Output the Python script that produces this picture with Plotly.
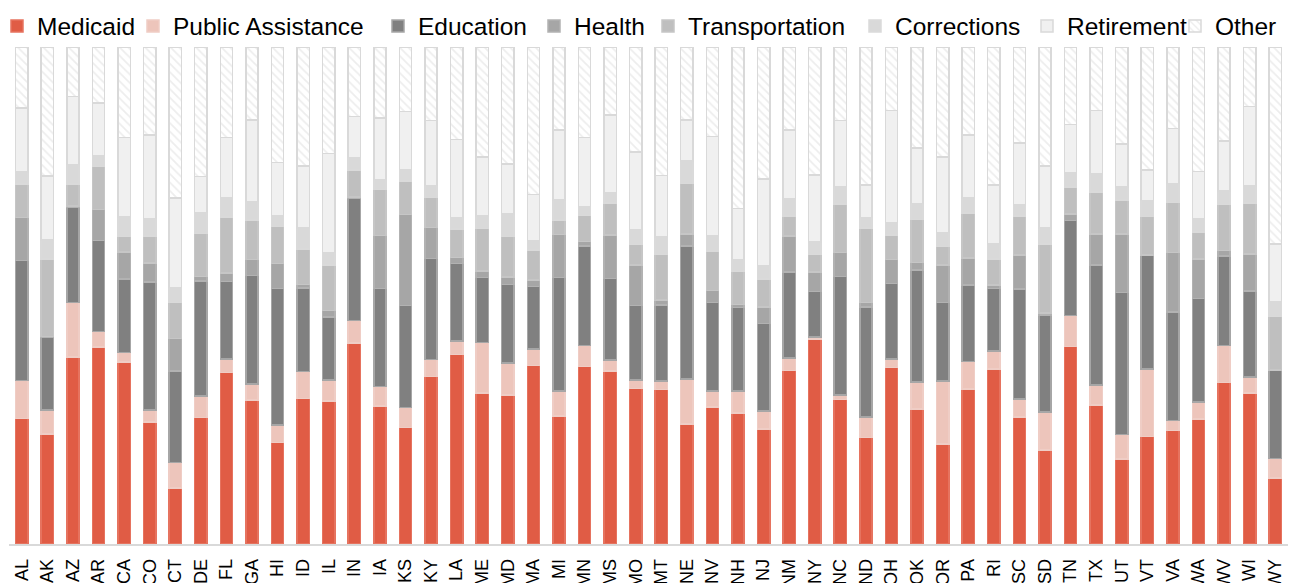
import plotly.graph_objects as go

states = ["AL","AK","AZ","AR","CA","CO","CT","DE","FL","GA","HI","ID","IL","IN","IA","KS","KY","LA","ME","MD",
          "MA","MI","MN","MS","MO","MT","NE","NV","NH","NJ","NM","NY","NC","ND","OH","OK","OR","PA","RI","SC",
          "SD","TN","TX","UT","VT","VA","WA","WV","WI","WY"]

medicaid = [25.3,22.1,37.6,39.6,36.6,24.6,11.3,25.4,34.5,29.0, 20.4,29.3,28.8,40.4,27.8,23.4,33.7,38.2,30.4,30.0,
            35.9,25.8,35.7,34.8,31.3,31.1,24.1,27.6,26.3,23.1, 34.9,41.2,29.1,21.4,35.5,27.2,20.1,31.2,35.2,25.6,
            18.9,39.7,28.0,17.1,21.6,22.9,25.2,32.5,30.4,13.3]
public_assistance = [7.6,4.8,11.0,3.2,1.9,2.4,5.1,4.4,2.7,3.2, 3.6,5.4,4.2,4.5,3.9,4.1,3.4,2.7,10.1,6.4,
                     3.3,5.0,4.2,2.2,1.7,1.7,9.1,3.2,4.5,3.7, 2.5,0.5,0.9,4.2,1.8,5.4,12.7,5.5,3.7,3.6,
                     7.6,6.2,4.0,5.0,13.6,2.0,3.4,7.4,3.2,3.9]
education = [24.1,14.6,19.1,18.3,14.8,25.8,18.4,23.1,15.6,21.8, 27.5,16.8,12.7,24.6,19.7,20.5,20.3,15.6,13.1,15.8,
             12.6,22.8,20.1,16.4,15.0,15.2,26.8,17.8,16.7,17.6, 17.3,9.1,23.8,22.1,15.2,22.6,15.8,15.4,12.6,22.1,
             19.5,19.1,24.1,28.6,22.8,21.8,20.8,18.0,17.3,17.7]
health = [8.7,0.2,0.3,6.2,5.5,3.8,6.5,0.9,1.7,3.2, 5.0,0.7,1.3,0.3,10.7,18.3,6.3,1.2,1.3,1.5,
          1.3,8.7,0.9,8.7,8.1,1.0,2.4,2.4,0.6,3.3, 7.3,3.9,4.9,0.9,4.8,1.5,7.5,5.4,0.7,6.8,
          0.4,1.3,6.3,11.7,0.2,12.0,8.0,1.2,7.4,0.1]
transportation = [6.7,15.6,4.4,8.7,3.1,5.4,7.2,8.6,11.3,8.0, 7.4,7.2,9.1,5.4,9.2,6.7,6.0,5.7,8.6,8.2,
                  6.0,2.9,5.2,6.4,4.2,9.2,10.1,8.0,6.7,5.6, 4.0,3.6,9.7,15.0,4.9,8.7,3.8,9.1,5.2,7.9,
                  13.9,5.5,8.4,6.9,7.7,10.1,5.4,9.2,10.2,10.7]
corrections = [2.5,3.8,4.0,2.2,3.9,3.6,3.1,4.2,3.8,3.7, 2.2,4.2,2.6,2.5,2.0,2.4,2.4,2.4,2.5,4.5,
               1.9,4.0,1.8,2.1,3.0,3.5,4.6,3.0,2.4,2.7, 3.4,2.5,3.5,2.1,2.6,3.2,2.8,3.0,3.0,2.2,
               3.2,2.8,3.6,2.6,3.2,3.8,2.7,2.7,3.5,3.0]
retirement = [12.8,12.9,13.6,10.5,16.0,16.8,17.9,7.3,12.2,16.4, 10.7,12.5,19.9,8.2,12.4,11.6,13.1,15.7,11.9,10.1,
              9.3,14.1,13.9,15.6,15.6,12.4,8.2,20.0,10.2,17.4, 13.9,13.4,13.3,6.5,22.5,11.2,15.2,12.7,11.9,12.5,
              12.5,9.7,12.8,8.7,6.2,11.1,9.5,10.1,15.9,11.6]
other = [12.3,25.9,10.0,11.3,18.2,17.7,30.4,26.0,18.2,14.7, 23.3,23.9,21.4,14.0,14.3,13.0,14.8,18.6,22.1,23.5,
         29.6,16.7,18.2,13.7,21.1,25.8,14.7,18.0,32.5,26.6, 16.7,25.8,14.8,27.8,12.8,20.3,22.1,17.7,27.8,19.3,
         23.9,15.6,12.8,19.5,24.7,16.4,25.1,18.9,12.0,39.6]

series = [
    ("Medicaid", medicaid, "#E05C45", "#E6735F", 99),
    ("Public Assistance", public_assistance, "#EDC5BB", "#EFCDC5", 208),
    ("Education", education, "#808080", "#A6A6A6", 119),
    ("Health", health, "#A6A6A6", "#B2B2B2", 77),
    ("Transportation", transportation, "#BFBFBF", "#C6C6C6", 170),
    ("Corrections", corrections, "#D9D9D9", "#DADADA", 135),
    ("Retirement", retirement, "#F0F0F0", "#D9D9D9", 111),
]

FONT = "Arial, 'Liberation Sans', sans-serif"
fig = go.Figure()
for name, vals, fill, line, lw in series:
    fig.add_trace(go.Bar(
        x=states, y=vals, name=name, legendwidth=lw,
        marker=dict(color=fill, line=dict(color=line, width=1.5)),
    ))
fig.add_trace(go.Bar(
    x=states, y=other, name="Other",
    marker=dict(color="white", line=dict(color="#D9D9D9", width=1.5),
                pattern=dict(shape="\\", fgcolor="#DCDCDC", bgcolor="white", size=6, solidity=0.3)),
))

# page body has an 8px margin; figure laid out in page coords minus 8
W, H = 1293, 575
fig.update_layout(
    width=W, height=H,
    barmode="stack", barnorm="percent", bargap=0.52,
    margin=dict(l=1, r=13, t=39, b=39, autoexpand=False),
    paper_bgcolor="white", plot_bgcolor="white",
    font=dict(family=FONT, color="#000000"),
    showlegend=True,
    legend=dict(orientation="h", xref="paper", yref="paper", x=-4 / 1279, y=1 + 21 / 497,
                xanchor="left", yanchor="middle",
                font=dict(size=24.5, family=FONT, color="#000000"), indentation=-8,
                itemwidth=30, tracegroupgap=0, traceorder="normal", bgcolor="rgba(0,0,0,0)"),
    xaxis=dict(type="category", tickangle=-90, tickfont=dict(size=18, family=FONT, color="#000000"),
               showline=True, linecolor="#D9D9D9", linewidth=1.5, showgrid=False, ticks="",
               ticklabelstandoff=6, automargin=False, range=[-0.5, 49.5]),
    yaxis=dict(range=[0, 100], visible=False, showgrid=False, zeroline=False, automargin=False),
)

fig.write_html("out.html")
